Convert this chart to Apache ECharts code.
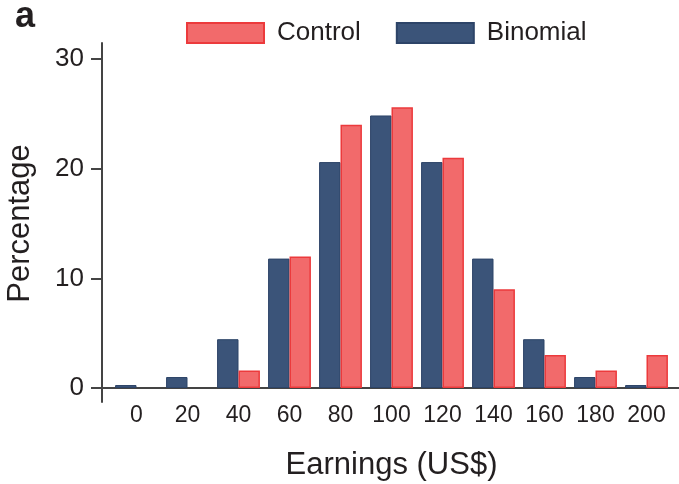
<!DOCTYPE html>
<html>
<head>
    <meta charset="UTF-8">
    <title>Earnings</title>
    <style>
        html, body { margin: 0; padding: 0; background: #fff; }
        #chart { width: 679px; height: 484px; }
    </style>
</head>
<body>
<div id="chart"></div>
<script src="https://cdn.jsdelivr.net/npm/echarts@6/dist/echarts.min.js"></script>
<script>
    var categories = ['0', '20', '40', '60', '80', '100', '120', '140', '160', '180', '200'];
    var binomial = [0.27, 1.0, 4.45, 11.8, 20.6, 24.85, 20.6, 11.8, 4.45, 1.0, 0.27];
    var control = [0, 0, 1.6, 12.0, 24.0, 25.6, 21.0, 9.0, 3.0, 1.6, 3.0];
    var yTicks = [0, 10, 20, 30];

    var textColor = '#231f20';
    var lineColor = '#444';
    var font = 'Liberation Sans';

    // zero bars should not show a border line
    function toItems(arr) {
        return arr.map(function (v) {
            return v === 0 ? { value: v, itemStyle: { borderWidth: 0 } } : v;
        });
    }

    var chart = echarts.init(document.getElementById('chart'));
    var option = {
        animation: false,
        textStyle: { fontFamily: font, color: textColor },
        title: {
            text: 'a', left: 15, top: -1, padding: 0,
            textStyle: { fontSize: 36, fontWeight: 'bold', color: textColor, fontFamily: font }
        },
        legend: {
            data: ['Control', 'Binomial'],
            left: 186, top: 20, padding: 0,
            icon: 'rect',
            itemWidth: 77, itemHeight: 20, itemGap: 35,
            textStyle: { fontSize: 26, color: textColor, fontFamily: font, padding: [0, 0, 0, 8] }
        },
        grid: [
            { left: 111, right: 7, top: 59, bottom: 96, outerBoundsMode: 'none' },
            { left: 102, right: 0, top: 43, bottom: 82, outerBoundsMode: 'none' },
            { left: 102, right: 0, top: 59, bottom: 96, outerBoundsMode: 'none' }
        ],
        xAxis: [
            {
                type: 'category', gridIndex: 0, data: categories,
                axisLine: { show: false }, axisTick: { show: false },
                axisLabel: { fontSize: 23, color: textColor, margin: 16, interval: 0, hideOverlap: false },
                name: 'Earnings (US$)', nameLocation: 'middle', nameGap: 62,
                nameTextStyle: { fontSize: 31, color: textColor }
            },
            { type: 'value', gridIndex: 1, show: false, min: 0, max: 1 },
            {
                type: 'value', gridIndex: 2, min: 0, max: 1,
                axisLine: { show: true, lineStyle: { color: lineColor, width: 2 } },
                axisTick: { show: false }, axisLabel: { show: false }, splitLine: { show: false }
            }
        ],
        yAxis: [
            {
                type: 'value', gridIndex: 0, min: yTicks[0], max: yTicks[yTicks.length - 1], interval: 10,
                offset: 9,
                axisLine: { show: false },
                axisTick: { show: true, length: 11, lineStyle: { color: lineColor, width: 2 } },
                axisLabel: { fontSize: 26, color: textColor, margin: 18 },
                splitLine: { show: false },
                name: 'Percentage', nameLocation: 'middle', nameGap: 66,
                nameTextStyle: { fontSize: 31, color: textColor }
            },
            {
                type: 'value', gridIndex: 1, min: 0, max: 1,
                axisLine: { show: true, lineStyle: { color: lineColor, width: 2 } },
                axisTick: { show: false }, axisLabel: { show: false }, splitLine: { show: false }
            },
            { type: 'value', gridIndex: 2, show: false, min: 0, max: 1 }
        ],
        series: [
            {
                name: 'Binomial', type: 'bar', data: toItems(binomial),
                barGap: '0%', barCategoryGap: '16%',
                itemStyle: { color: '#3b5479', borderColor: '#2d4468', borderWidth: 1 }
            },
            {
                name: 'Control', type: 'bar', data: toItems(control),
                itemStyle: { color: '#f26a6b', borderColor: '#ec3a3c', borderWidth: 1.5 }
            }
        ]
    };
    chart.setOption(option);
</script>
</body>
</html>
